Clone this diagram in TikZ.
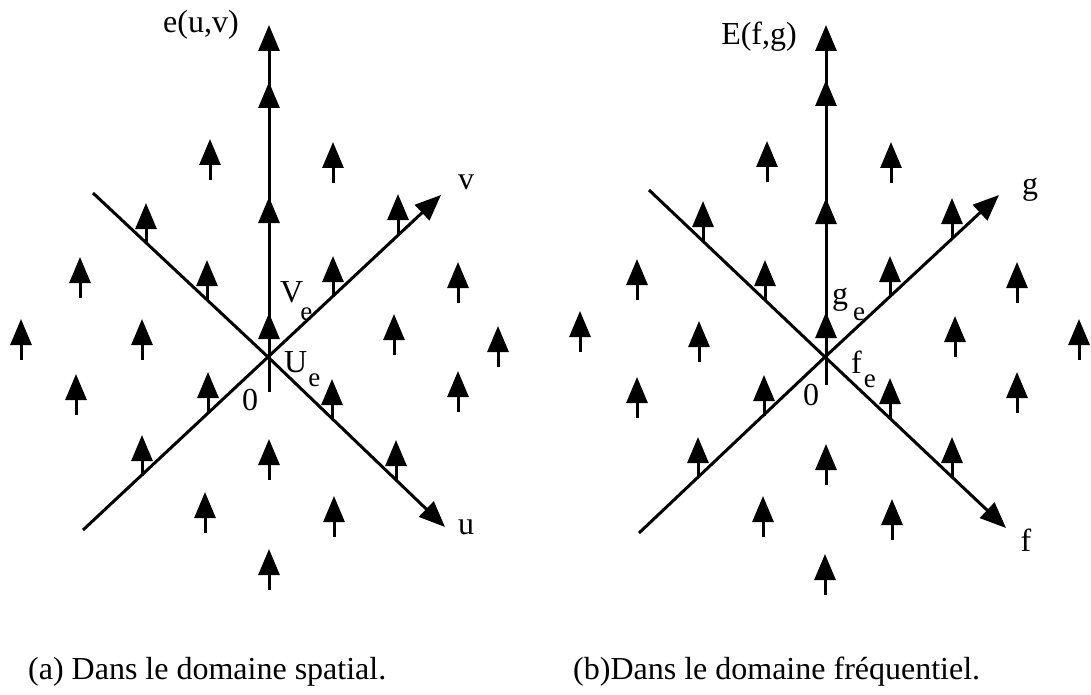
\documentclass[tikz,border=0pt]{standalone}
\usepackage{fontspec}
\setmainfont{Liberation Serif}
\usetikzlibrary{arrows.meta}
\newcommand{\subtxt}[2]{\raisebox{#1}{\fontsize{27}{27}\selectfont #2}}
\begin{document}
\begin{tikzpicture}[x=1pt,y=-1pt,
  ax/.style={line width=3pt},
  axarr/.style={line width=3pt,-{Triangle[length=26pt,width=21pt]}},
  imp/.style={line width=3pt,-{Triangle[length=26pt,width=21pt]}},
  lbl/.style={inner sep=0pt,font=\fontsize{32}{32}\selectfont},
  sublbl/.style={inner sep=0pt,anchor=base west,font=\fontsize{32}{32}\selectfont},
  captxt/.style={inner sep=0pt,anchor=base west,font=\fontsize{32}{32}\selectfont}]
\useasboundingbox (0,0) rectangle (1091,695);
% ---------------- left panel ----------------
\coordinate (O1) at (268,357);
\coordinate (U1a) at (93,193);
\coordinate (U1b) at (445,527);
\coordinate (V1a) at (83,530);
\coordinate (V1b) at (441,195);
\coordinate (Z1a) at (269,392);
\coordinate (Z1b) at (269,25);
\draw[ax] (U1a) -- (O1);
\draw[axarr] (O1) -- (U1b);
\draw[ax] (V1a) -- (O1);
\draw[axarr] (O1) -- (V1b);
\draw[axarr] (Z1a) -- (Z1b);
\foreach \t in {82,197,313} \draw[axarr] (269,\t+32) -- (269,\t);
\foreach \x/\b in {210/180,333/183,146/244,398/235,80/298,207/301,333/297,458/303,
  21/360,142/360,394/355,498/367,76/415,208/413,332/420,458/412,
  142/476,269/480,396/481,205/533,334/537,269/590}
  \draw[imp] (\x,\b) -- (\x,\b-41);
\node[lbl] (e1) at (201,25) {e(u,v)};
\node[lbl] (v1) at (466,182) {v};
\node[lbl] (u1) at (466,527) {u};
\node[sublbl] (Ve) at (280,302) {V\kern-3pt\subtxt{-18pt}{e}};
\node[sublbl] (Ue) at (284,372) {U\kern1pt\subtxt{-14pt}{e}};
\node[lbl] (z1) at (250,400) {0};
\node[captxt] (capa) at (28,679) {(a) Dans le domaine spatial.};
% ---------------- right panel ----------------
\coordinate (O2) at (825,357);
\coordinate (F2a) at (649,190);
\coordinate (F2b) at (1006,528);
\coordinate (G2a) at (639,533);
\coordinate (G2b) at (999,195);
\coordinate (Z2a) at (826,385);
\coordinate (Z2b) at (826,25);
\draw[ax] (F2a) -- (O2);
\draw[axarr] (O2) -- (F2b);
\draw[ax] (G2a) -- (O2);
\draw[axarr] (O2) -- (G2b);
\draw[axarr] (Z2a) -- (Z2b);
\foreach \t in {80,198,312} \draw[axarr] (826,\t+32) -- (826,\t);
\foreach \x/\b in {767/182,891/183,703/242,952/239,637/300,765/301,890/297,1017/303,
  580/352,699/362,955/357,1079/360,637/418,764/416,890/419,1017/413,
  698/478,826/485,952/478,763/537,892/540,825/595}
  \draw[imp] (\x,\b) -- (\x,\b-41);
\node[lbl] (E2) at (759,37) {E(f,g)};
\node[lbl] (g2) at (1030,190) {g};
\node[lbl] (f2) at (1026,540) {f};
\node[sublbl] (ge) at (832,304) {g\kern5pt\subtxt{-16pt}{e}};
\node[sublbl] (fe) at (851,373) {f\kern2pt\subtxt{-14pt}{e}};
\node[lbl] (z2) at (811,395) {0};
\node[captxt] (capb) at (573,679) {(b)Dans le domaine fréquentiel.};
\end{tikzpicture}
\end{document}
